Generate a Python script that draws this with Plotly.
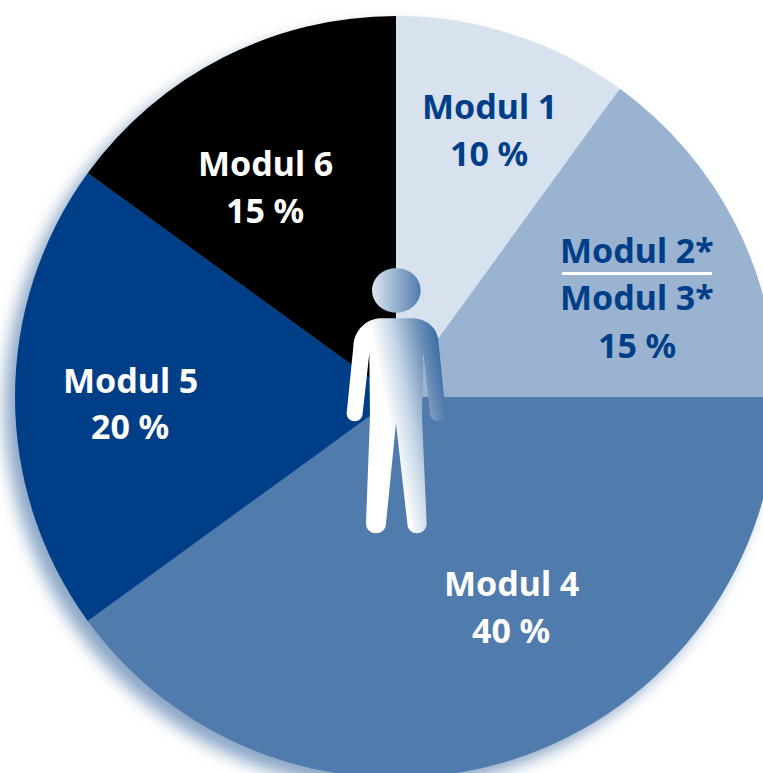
import base64
import plotly.graph_objects as go

# ---- data ----
modules = ["Modul 1", "Modul 2*/Modul 3*", "Modul 4", "Modul 5", "Modul 6"]
shares = [10, 15, 40, 20, 15]
colors = ["#d8e2ee", "#99b3d1", "#4f7bad", "#003e87", "#000000"]
label_lines = [
    ["Modul\u00a01", "10\u2005%"],
    ["Modul\u00a02*", "Modul\u00a03*", "15\u2005%"],
    ["Modul\u00a04", "40\u2005%"],
    ["Modul\u00a05", "20\u2005%"],
    ["Modul\u00a06", "15\u2005%"],
]
label_colors = ["#003f87", "#003f87", "#ffffff", "#ffffff", "#ffffff"]
label_x = [489, 637, 511, 130, 265]
label_y = [[106, 153], [250, 297, 345], [583, 630], [380, 426], [163, 210]]

# ---- page geometry (pixels) ----
W, H = 777, 778
L, T = 15, 16
PLOT = 762


def px(x):
    return (x - L) / PLOT


def py(y):
    return 1 - (y - T) / PLOT


def uri(svg):
    return "data:image/svg+xml;base64," + base64.b64encode(svg.encode()).decode()


shadow_svg = f"""<svg xmlns="http://www.w3.org/2000/svg" width="{W}" height="{H}" viewBox="0 0 {W} {H}">
<defs><filter id="b" x="-10%" y="-10%" width="120%" height="120%"><feGaussianBlur stdDeviation="8"/></filter></defs>
<circle cx="386" cy="407" r="381" fill="#8aa6c6" filter="url(#b)"/></svg>"""

person_svg = """<svg xmlns="http://www.w3.org/2000/svg" width="390" height="900" viewBox="0 0 390 900">
<defs>
<linearGradient id="g" gradientUnits="userSpaceOnUse" x1="125" y1="260" x2="311" y2="223">
<stop offset="0" stop-color="#ffffff"/><stop offset="0.35" stop-color="#c5d5e6"/><stop offset="0.75" stop-color="#6b90b8"/><stop offset="1" stop-color="#3f70a5"/>
</linearGradient>
<linearGradient id="h" gradientUnits="userSpaceOnUse" x1="126" y1="120" x2="272" y2="120">
<stop offset="0" stop-color="#dde6f0"/><stop offset="1" stop-color="#4f7bad"/>
</linearGradient>
</defs>
<ellipse cx="199" cy="121" rx="73" ry="67" fill="url(#h)"/>
<path fill="url(#g)" d="M150 205 L250 205 C290 207 322 235 325 270 L347 490 C347 522 300 522 300 490
L280 310 L276 500 L290 820 C290 860 232 860 232 820 L198 520 L168 820 C168 860 108 860 108 820
L120 500 L118 310 L98 490 C98 522 50 522 50 490 L70 290 C72 240 110 207 150 205 Z"/>
</svg>"""

fig = go.Figure(
    go.Pie(
        labels=modules,
        values=shares,
        sort=False,
        direction="clockwise",
        rotation=0,
        marker=dict(colors=colors, line=dict(width=0)),
        textinfo="none",
        showlegend=False,
        domain=dict(x=[0, 1], y=[0, 1]),
    )
)

annotations = [
    dict(
        x=px(x), y=py(y), xref="paper", yref="paper", text=t, showarrow=False,
        xanchor="center", yanchor="middle",
        font=dict(family="Noto Sans", size=34, color=c, weight="bold"),
    )
    for lines, c, x, ys in zip(label_lines, label_colors, label_x, label_y)
    for t, y in zip(lines, ys)
]

fig.update_layout(
    width=W,
    height=H,
    margin=dict(l=L, t=T, r=W - L - PLOT, b=H - T - PLOT, autoexpand=False),
    paper_bgcolor="white",
    annotations=annotations,
    shapes=[
        dict(type="line", xref="paper", yref="paper", x0=px(562), x1=px(712),
             y0=py(273.5), y1=py(273.5), line=dict(color="white", width=3)),
    ],
    images=[
        dict(source=uri(shadow_svg), xref="paper", yref="paper", x=px(0), y=py(0),
             sizex=W / PLOT, sizey=H / PLOT, sizing="stretch", layer="below",
             xanchor="left", yanchor="top"),
        dict(source=uri(person_svg), xref="paper", yref="paper", x=px(330), y=py(250),
             sizex=130 / PLOT, sizey=300 / PLOT, sizing="stretch", layer="above",
             xanchor="left", yanchor="top"),
    ],
)

fig.write_html(
    "out.html",
    config=dict(displayModeBar=False),
    post_script="document.documentElement.style.overflow='hidden';"
                "document.body.style.overflow='hidden';document.body.style.margin='0';",
)
